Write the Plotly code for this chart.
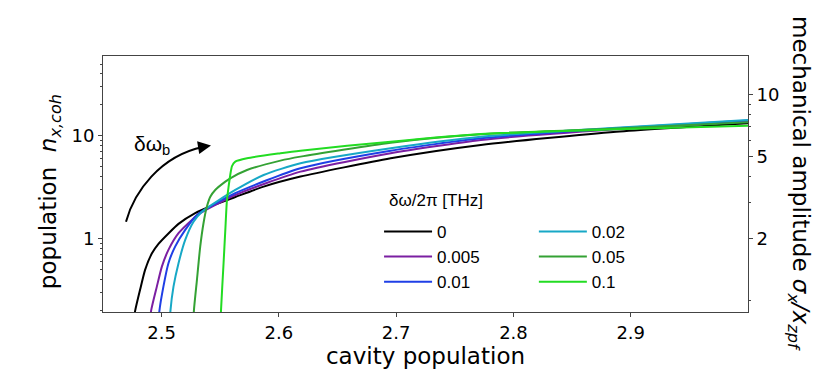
import numpy as np
import plotly.graph_objects as go

# detuning values (legend) and colours
detunings = ["0", "0.005", "0.01", "0.02", "0.05", "0.1"]
colors = ["#000000", "#7b1fa2", "#1f3fe6", "#17a8c6", "#34a234", "#22dc22"]

# cavity population (x) and coherent phonon population (y)
x_0 = [2.4757, 2.4774, 2.4816, 2.4859, 2.4916, 2.4973, 2.5058, 2.5144, 2.5286, 2.5429, 2.5628, 2.5870, 2.6184, 2.6953, 2.7722, 2.8876, 3.0]
n_0 = [0.15, 0.2, 0.32, 0.50, 0.72, 0.894, 1.13, 1.40, 1.78, 2.1, 2.55, 3.22, 4.03, 6.07, 8.18, 11.0, 13.3]

x_005 = [2.4902, 2.4910, 2.4959, 2.5002, 2.5058, 2.5144, 2.5258, 2.5329, 2.5628, 2.6184, 2.6953, 2.7722, 2.8876, 3.0]
n_005 = [0.15, 0.2, 0.344, 0.538, 0.782, 1.136, 1.53, 1.78, 2.67, 4.50, 6.79, 9.15, 11.6, 13.8]

x_01 = [2.4975, 2.4981, 2.5015, 2.5058, 2.5115, 2.5201, 2.5301, 2.5628, 2.6184, 2.6953, 2.7722, 2.8876, 3.0]
n_01 = [0.15, 0.2, 0.344, 0.581, 0.842, 1.223, 1.71, 2.78, 4.86, 7.20, 9.50, 11.9, 14.1]

x_02 = [2.5070, 2.5075, 2.5101, 2.5144, 2.5201, 2.5272, 2.5344, 2.5628, 2.5870, 2.6184, 2.6953, 2.7722, 2.8876, 3.0]
n_02 = [0.15, 0.2, 0.344, 0.581, 0.978, 1.47, 1.84, 2.99, 4.18, 5.43, 7.60, 9.85, 12.0, 14.3]

x_05 = [2.5272, 2.5275, 2.5301, 2.5329, 2.5357, 2.5386, 2.5415, 2.5457, 2.5543, 2.5585, 2.5728, 2.6013, 2.6184, 2.6953, 2.7722, 2.8876, 3.0]
n_05 = [0.15, 0.2, 0.40, 0.842, 1.42, 2.06, 2.57, 2.99, 3.60, 3.88, 4.67, 5.76, 6.30, 8.61, 10.4, 11.8, 13.6]

x_1 = [2.5503, 2.5506, 2.5528, 2.5543, 2.5557, 2.5571, 2.5585, 2.5600, 2.5628, 2.5728, 2.6013, 2.6184, 2.6953, 2.7722, 2.8876, 3.0]
n_1 = [0.15, 0.2, 0.581, 1.223, 2.39, 3.22, 4.18, 5.1, 5.63, 6.07, 6.79, 7.20, 8.81, 10.45, 11.6, 12.6]

xs = [x_0, x_005, x_01, x_02, x_05, x_1]
ns = [n_0, n_005, n_01, n_02, n_05, n_1]

x_ticks = [2.5, 2.6, 2.7, 2.8, 2.9]
left_ticks = [1, 10]
left_minor = [0.2, 0.3, 0.4, 0.5, 0.6, 0.7, 0.8, 0.9, 2, 3, 4, 5, 6, 7, 8, 9, 20, 30, 40, 50]
right_ticks = [2, 5, 10]
right_minor = [1, 3, 4, 6, 7, 8, 9]

x_range = [2.45, 3.0]
y_range = [np.log10(0.195), np.log10(59.8)]
# mechanical amplitude ~ 2*sqrt(n) -> same pixels
y2_range = [r / 2 + np.log10(2) for r in y_range]

TICK = "DejaVu Sans"
ARIAL = "Liberation Sans"
AX = "#444444"

fig = go.Figure()

# legend columns: first three in legend, last three in legend2
for i, (x, n, lab, col) in enumerate(zip(xs, ns, detunings, colors)):
    fig.add_trace(go.Scatter(
        x=x, y=n, mode="lines", name=lab,
        line=dict(color=col, width=2, shape="spline", smoothing=0.6),
        legend="legend" if i < 3 else "legend2",
    ))

# dummy trace so the right axis exists
fig.add_trace(go.Scatter(x=[x_ticks[0]], y=[right_ticks[0]], yaxis="y2",
                         mode="none", showlegend=False, hoverinfo="skip"))

# page body adds 8px offset, so figure is 822x370 with plot area at 103..748 x 56..312 on screen
fig.update_layout(
    width=822, height=370,
    margin=dict(l=95, r=82, t=48, b=66),
    plot_bgcolor="white", paper_bgcolor="white",
    xaxis=dict(
        range=x_range, tickvals=x_ticks, ticktext=[str(t) for t in x_ticks],
        ticks="outside", ticklen=4, tickcolor=AX, showline=True, linecolor=AX,
        linewidth=1, mirror=True, showgrid=False, zeroline=False,
        tickfont=dict(family=TICK, size=18, color="black"),
        title=dict(text="cavity population", font=dict(family=TICK, size=23, color="black"), standoff=4),
    ),
    yaxis=dict(
        type="log", range=y_range, tickvals=left_ticks, ticktext=["1", "10"],
        ticks="outside", ticklen=4, tickcolor=AX, showline=True, linecolor=AX,
        linewidth=1, showgrid=False, zeroline=False,
        tickfont=dict(family=TICK, size=18, color="black"),
        minor=dict(tickvals=left_minor, ticks="outside", ticklen=2, tickcolor=AX, showgrid=False),
    ),
    yaxis2=dict(
        type="log", range=y2_range, overlaying="y", side="right",
        tickvals=right_ticks, ticktext=["2", "5", "10"],
        ticks="outside", ticklen=4, tickcolor=AX, showline=True, linecolor=AX,
        linewidth=1, showgrid=False, zeroline=False,
        tickfont=dict(family=TICK, size=18, color="black"),
        minor=dict(tickvals=right_minor, ticks="outside", ticklen=2, tickcolor=AX, showgrid=False),
    ),
    legend=dict(
        x=0.428, y=0.383, xanchor="left", yanchor="top", itemwidth=48,
        bgcolor="rgba(0,0,0,0)", borderwidth=0,
        font=dict(family=ARIAL, size=17, color="black"),
    ),
    legend2=dict(
        x=0.668, y=0.383, xanchor="left", yanchor="top", itemwidth=48,
        bgcolor="rgba(0,0,0,0)", borderwidth=0,
        font=dict(family=ARIAL, size=17, color="black"),
    ),
)


def px(xp, yp):
    # screen pixel -> paper coords of the plot area
    return (xp - 103) / 645, (312 - yp) / 256


# legend title
lt = px(387, 200)
fig.add_annotation(
    xref="paper", yref="paper", x=lt[0], y=lt[1], xanchor="left", yanchor="middle",
    text="δω/2π [THz]", showarrow=False,
    font=dict(family=ARIAL, size=17, color="black"),
)

# axis titles
fig.add_annotation(
    xref="paper", yref="paper", x=-0.083, y=0.47, xanchor="center", yanchor="middle",
    text="population  <i>n</i><sub><i>x,coh</i></sub>", textangle=-90, showarrow=False,
    font=dict(family=TICK, size=23, color="black"),
)
fig.add_annotation(
    xref="paper", yref="paper", x=1.079, y=0.5, xanchor="center", yanchor="middle",
    text="mechanical amplitude <i>σ</i><sub><i>x</i></sub><i>/x</i><sub><i>zpf</i></sub>",
    textangle=90, showarrow=False,
    font=dict(family=TICK, size=23, color="black"),
)

# curved arrow with label
p0, c1, c2, p1 = px(126, 221.7), px(134, 192), px(160, 156), px(203, 147)
fig.add_shape(
    type="path", xref="paper", yref="paper",
    path=f"M {p0[0]},{p0[1]} C {c1[0]},{c1[1]} {c2[0]},{c2[1]} {p1[0]},{p1[1]}",
    line=dict(color="black", width=2),
)
tip = px(211, 145.5)
fig.add_annotation(
    xref="paper", yref="paper", x=tip[0], y=tip[1], ax=-12, ay=2,
    text="", showarrow=True, arrowhead=2, arrowsize=1.3, arrowwidth=2, arrowcolor="black",
)
lab = px(152, 145)
fig.add_annotation(
    xref="paper", yref="paper", x=lab[0], y=lab[1], xanchor="center", yanchor="middle",
    text="δω<sub>b</sub>", showarrow=False,
    font=dict(family=ARIAL, size=21, color="black"),
)

fig.write_html("out.html")
